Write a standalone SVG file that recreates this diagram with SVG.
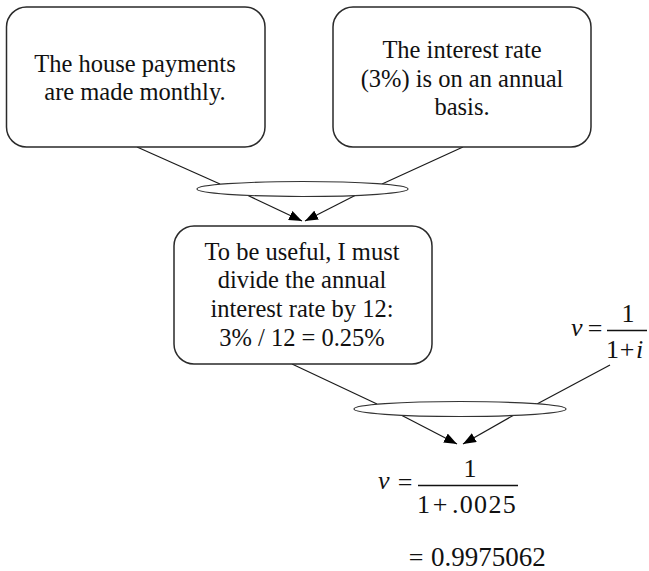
<svg xmlns="http://www.w3.org/2000/svg" width="649" height="571" viewBox="0 0 649 571">
<defs>
<style>
.box{fill:#fff;stroke:#2a2a2a;stroke-width:1.5}
.ell{fill:#fff;stroke:#333;stroke-width:1.2}
.ln{stroke:#1a1a1a;stroke-width:1.2;fill:none}
.t{font-size:24.5px;fill:#111;text-anchor:middle}
.m{font-size:26px;fill:#111}
.mi{font-style:italic}
.c{text-anchor:middle}
.e{text-anchor:end}
</style>
<marker id="ah" markerWidth="13" markerHeight="10" refX="13" refY="5" orient="auto" markerUnits="userSpaceOnUse">
<path d="M0,0 L13,5 L0,10 Z" fill="#000"/>
</marker>
</defs>
<g id="connectors">
<line class="ln" x1="137" y1="147" x2="220" y2="184"/>
<line class="ln" x1="463" y1="147" x2="382" y2="184"/>
<line class="ln" x1="248" y1="195.5" x2="302" y2="221" marker-end="url(#ah)"/>
<line class="ln" x1="355" y1="195.5" x2="305" y2="221" marker-end="url(#ah)"/>
<line class="ln" x1="292" y1="364" x2="377" y2="404"/>
<line class="ln" x1="610" y1="365" x2="537" y2="404"/>
<line class="ln" x1="402" y1="415.5" x2="457" y2="444" marker-end="url(#ah)"/>
<line class="ln" x1="513" y1="415.5" x2="463" y2="444" marker-end="url(#ah)"/>
</g>
<g font-family="Liberation Serif, Times New Roman, DejaVu Serif, serif">
<g id="node-monthly">
<rect class="box" x="6.5" y="7" width="258.5" height="140" rx="20"/>
<text class="t" x="135" y="72">The house payments</text>
<text class="t" x="135" y="100">are made monthly.</text>
</g>
<g id="node-annual">
<rect class="box" x="333" y="7" width="258" height="140" rx="20"/>
<text class="t" x="462" y="58">The interest rate</text>
<text class="t" x="462" y="87">(3%) is on an annual</text>
<text class="t" x="462" y="115">basis.</text>
</g>
<g id="join-1">
<ellipse class="ell" cx="302.5" cy="189" rx="105.5" ry="7.5"/>
</g>
<g id="node-divide">
<rect class="box" x="174" y="226" width="258" height="138" rx="20"/>
<text class="t" x="302" y="260">To be useful, I must</text>
<text class="t" x="302" y="288">divide the annual</text>
<text class="t" x="302" y="317">interest rate by 12:</text>
<text class="t" x="302" y="346">3% / 12 = 0.25%</text>
</g>
<g id="node-formula">
<text class="m mi" x="571" y="336">v</text>
<text class="m c" x="595" y="337">=</text>
<line x1="607" y1="330.5" x2="647" y2="330.5" stroke="#111" stroke-width="1.3"/>
<text class="m c" x="628" y="322">1</text>
<text class="m" x="606" y="358">1</text>
<text class="m c" x="627" y="358">+</text>
<text class="m mi" x="636" y="358">i</text>
</g>
<g id="join-2">
<ellipse class="ell" cx="460" cy="409" rx="106" ry="7.5"/>
</g>
<g id="node-result">
<text class="m mi" x="378" y="489">v</text>
<text class="m c" x="405" y="491">=</text>
<line x1="418" y1="485.5" x2="518" y2="485.5" stroke="#111" stroke-width="1.3"/>
<text class="m c" x="470" y="477">1</text>
<text class="m" x="417" y="513">1</text>
<text class="m c" x="440" y="513">+</text>
<text class="m" x="452" y="513" letter-spacing="1.3">.0025</text>
<text class="m c" x="416" y="566">=</text>
<text class="m" x="431" y="566" style="font-size:27px">0.9975062</text>
</g>
</g>
</svg>
